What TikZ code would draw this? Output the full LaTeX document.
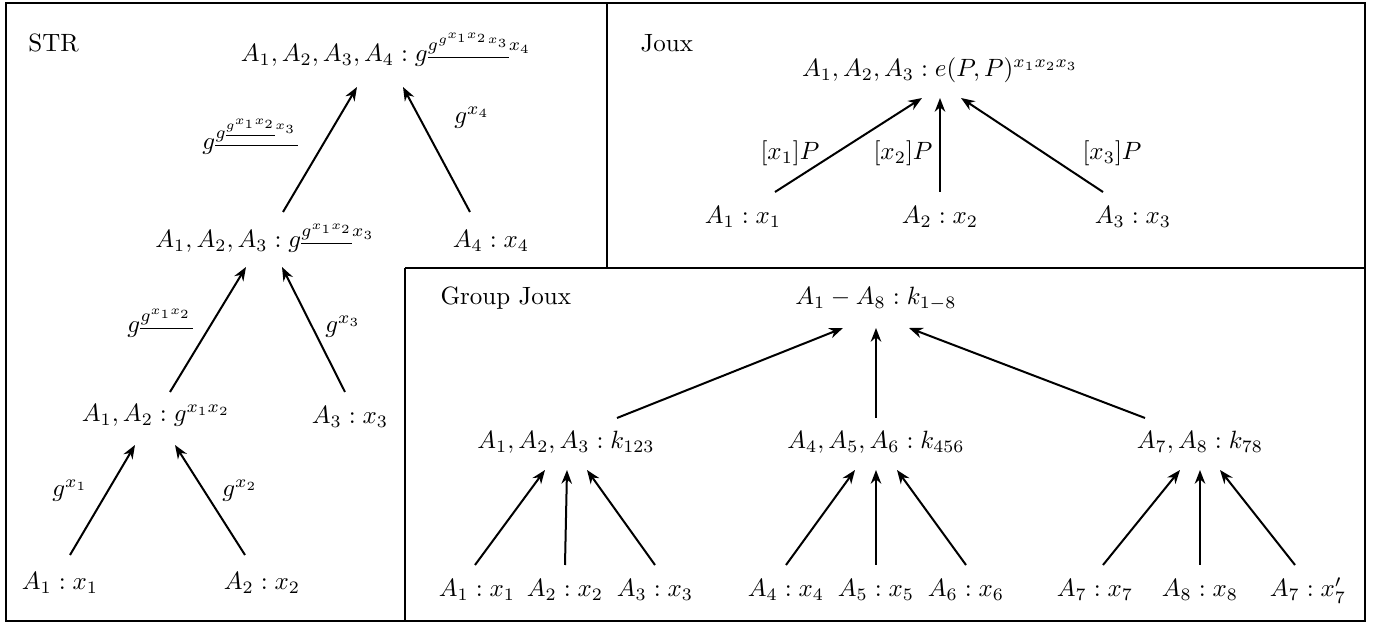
\documentclass[tikz,border=0pt]{standalone}
\usetikzlibrary{calc,arrows.meta}
\begin{document}
\begin{tikzpicture}[x=0.4pt,y=-0.4pt,
  frame/.style={line width=0.8pt},
  arr/.style={-{Stealth[length=5.5pt,width=4.2pt]},line width=0.8pt},
  txt/.style={inner sep=0pt,anchor=base},
  ttl/.style={inner sep=0pt,anchor=base west}]
\useasboundingbox (0,0) rectangle (1374,624);
% frames
\draw[frame] (6,3) rectangle (1365,621);
\draw[frame] (607,3) -- (607,268);
\draw[frame] (405,268) -- (1365,268);
\draw[frame] (405,268) -- (405,621);

% ---------- STR ----------
\node[ttl] (strlbl) at (28,52) {STR};
\node[txt] (s4) at (386,62) {$A_1,A_2,A_3,A_4:g^{\underline{g^{g^{x_1x_2}x_3}}x_4}$};
\node[txt] (sl4) at (250,150) {$g^{\underline{g^{\underline{g^{x_1x_2}}x_3}}}$};
\node[txt] (sx4) at (472,124) {$g^{x_4}$};
\node[txt] (s3) at (265,248) {$A_1,A_2,A_3:g^{\underline{g^{x_1x_2}}x_3}$};
\node[txt] (a4) at (491,248) {$A_4:x_4$};
\node[txt] (sl3) at (160,333) {$g^{\underline{g^{x_1x_2}}}$};
\node[txt] (sx3) at (343,333) {$g^{x_3}$};
\node[txt] (s2) at (156,422) {$A_1,A_2:g^{x_1x_2}$};
\node[txt] (a3) at (350,424) {$A_3:x_3$};
\node[txt] (sx1) at (70,497) {$g^{x_1}$};
\node[txt] (sx2) at (240,497) {$g^{x_2}$};
\node[txt] (a1) at (60,590) {$A_1:x_1$};
\node[txt] (a2) at (262,590) {$A_2:x_2$};

\draw[arr] ($(a1.base)+(10,-35)$) -- ($(s2.base)+(-21,23)$);
\draw[arr] ($(a2.base)+(-17,-35)$) -- ($(s2.base)+(19,23)$);
\draw[arr] ($(s2.base)+(14,-30)$) -- ($(s3.base)+(-19,19)$);
\draw[arr] ($(a3.base)+(-5,-32)$) -- ($(s3.base)+(17,19)$);
\draw[arr] ($(s3.base)+(18,-36)$) -- ($(s4.base)+(-29,25)$);
\draw[arr] ($(a4.base)+(-21,-36)$) -- ($(s4.base)+(17,25)$);

% ---------- Joux ----------
\node[ttl] (jlbl) at (640,52) {Joux};
\node[txt] (j) at (940,77) {$A_1,A_2,A_3:e(P,P)^{x_1x_2x_3}$};
\node[txt] (jb1) at (743,224) {$A_1:x_1$};
\node[txt] (jb2) at (940,224) {$A_2:x_2$};
\node[txt] (jb3) at (1133,224) {$A_3:x_3$};
\node[txt] (jl1) at (790,160) {$[x_1]P$};
\node[txt] (jl2) at (903,160) {$[x_2]P$};
\node[txt] (jl3) at (1112,160) {$[x_3]P$};
\draw[arr] ($(jb1.base)+(32,-32)$) -- ($(j.base)+(-18,21)$);
\draw[arr] ($(jb2.base)+(0,-32)$) -- ($(j.base)+(0,21)$);
\draw[arr] ($(jb3.base)+(-30,-32)$) -- ($(j.base)+(21,21)$);

% ---------- Group Joux ----------
\node[ttl] (glbl) at (440,305) {Group Joux};
\node[txt] (g) at (876,305) {$A_1-A_8:k_{1-8}$};
\node[txt] (gm1) at (566,449) {$A_1,A_2,A_3:k_{123}$};
\node[txt] (gm2) at (876,449) {$A_4,A_5,A_6:k_{456}$};
\node[txt] (gm3) at (1200,449) {$A_7,A_8:k_{78}$};
\node[txt] (b1) at (477,597) {$A_1:x_1$};
\node[txt] (b2) at (565,597) {$A_2:x_2$};
\node[txt] (b3) at (655,597) {$A_3:x_3$};
\node[txt] (b4) at (786,597) {$A_4:x_4$};
\node[txt] (b5) at (876,597) {$A_5:x_5$};
\node[txt] (b6) at (966,597) {$A_6:x_6$};
\node[txt] (b7) at (1095,597) {$A_7:x_7$};
\node[txt] (b8) at (1200,597) {$A_8:x_8$};
\node[txt] (b9) at (1308,597) {$A_7:x_7'$};

\draw[arr] ($(gm1.base)+(51,-31)$) -- ($(g.base)+(-33,23)$);
\draw[arr] ($(gm2.base)+(0,-31)$) -- ($(g.base)+(0,23)$);
\draw[arr] ($(gm3.base)+(-55,-31)$) -- ($(g.base)+(33,23)$);

\draw[arr] ($(b1.base)+(-2,-32)$) -- ($(gm1.base)+(-21,21)$);
\draw[arr] ($(b2.base)+(0,-32)$) -- ($(gm1.base)+(1,21)$);
\draw[arr] ($(b3.base)+(0,-32)$) -- ($(gm1.base)+(21,21)$);
\draw[arr] ($(b4.base)+(0,-32)$) -- ($(gm2.base)+(-21,21)$);
\draw[arr] ($(b5.base)+(0,-32)$) -- ($(gm2.base)+(0,21)$);
\draw[arr] ($(b6.base)+(0,-32)$) -- ($(gm2.base)+(21,21)$);
\draw[arr] ($(b7.base)+(8,-32)$) -- ($(gm3.base)+(-20,21)$);
\draw[arr] ($(b8.base)+(0,-32)$) -- ($(gm3.base)+(0,21)$);
\draw[arr] ($(b9.base)+(-13,-32)$) -- ($(gm3.base)+(20,21)$);
\end{tikzpicture}
\end{document}
